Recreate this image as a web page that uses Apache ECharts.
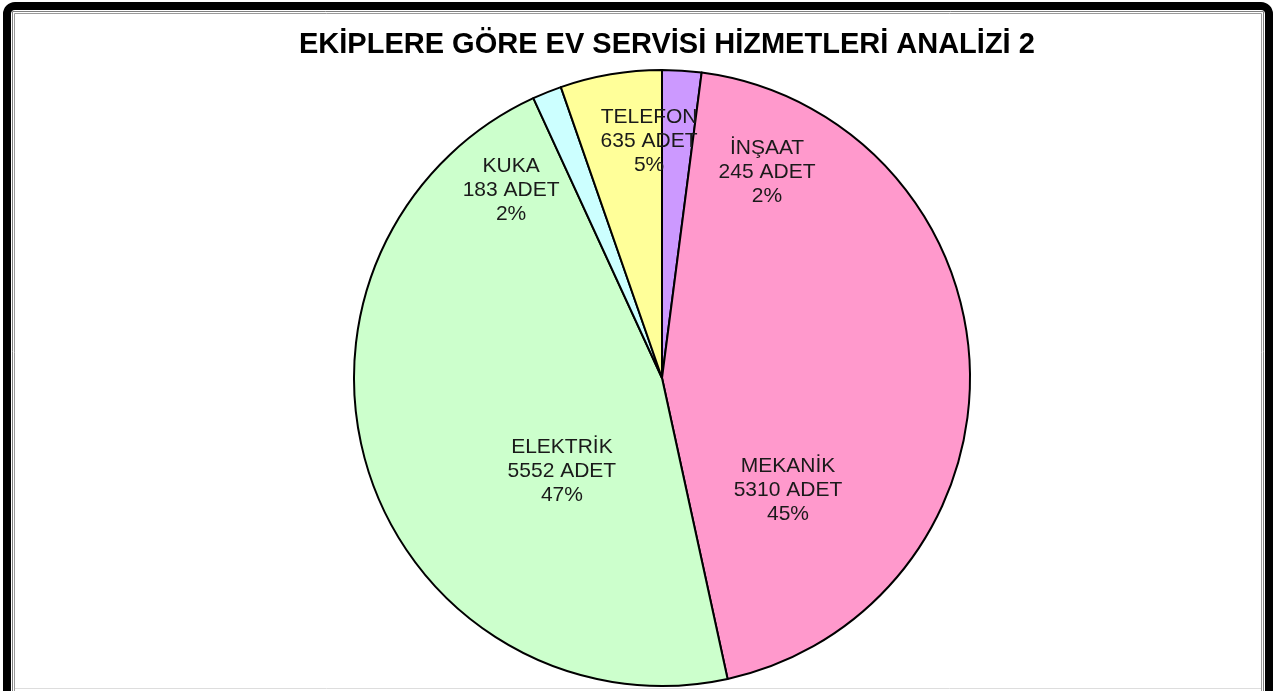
<!DOCTYPE html>
<html>
<head>
<meta charset="utf-8">
<script src="https://cdn.jsdelivr.net/npm/echarts@6/dist/echarts.min.js"></script>
<style>
  html, body { margin: 0; padding: 0; background: #fff; }
  #chart { width: 1274px; height: 691px; }
</style>
</head>
<body>
<div id="chart"></div>
<script>
// ekip adlari ve hizmet adetleri (saat yonunde, tepeden baslayarak)
const teams = ['İNŞAAT', 'MEKANİK', 'ELEKTRİK', 'KUKA', 'TELEFON']
const counts = [245, 5310, 5552, 183, 635]
const colors = ['#CC99FF', '#FF99CC', '#CCFFCC', '#CCFFFF', '#FFFF99']

const total = counts.reduce((a, b) => a + b, 0)

const cx = 662
const cy = 378
const R = 308
// etiket yerleri, yaricapa gore (Excel'in yerlestirdigi gibi)
const labelSpots = [
  [0.341, -0.669],
  [0.409, 0.364],
  [-0.325, 0.302],
  [-0.490, -0.610],
  [-0.042, -0.769]
]

const chart = echarts.init(document.getElementById('chart'))
chart.setOption({
  animation: false,
  title: {
    text: 'EKİPLERE GÖRE EV SERVİSİ HİZMETLERİ ANALİZİ 2',
    left: 294,
    top: 25,
    textStyle: {
      fontFamily: 'Liberation Sans, Arial, sans-serif',
      fontSize: 29,
      fontWeight: 'bold',
      color: '#000'
    }
  },
  graphic: [
    {
      type: 'rect',
      z: 100,
      shape: { x: 7, y: 6, width: 1262, height: 730, r: 8 },
      style: { fill: null, stroke: '#000', lineWidth: 8 }
    },
    {
      type: 'rect',
      z: 100,
      shape: { x: 12.5, y: 11.5, width: 1251, height: 720 },
      style: { fill: null, stroke: '#808080', lineWidth: 1 }
    },
    {
      type: 'rect',
      z: 100,
      shape: { x: 14.5, y: 13.5, width: 1247, height: 720 },
      style: { fill: null, stroke: '#9a9a9a', lineWidth: 1 }
    },
    {
      type: 'line',
      z: 100,
      shape: { x1: 15, y1: 688.5, x2: 1261, y2: 688.5 },
      style: { stroke: '#dddddd', lineWidth: 1 }
    }
  ],
  series: [{
    type: 'pie',
    center: [cx, cy],
    radius: R,
    startAngle: 90,
    clockwise: true,
    data: teams.map((t, i) => ({
      name: t,
      value: counts[i],
      itemStyle: { color: colors[i] }
    })),
    itemStyle: {
      borderColor: '#000',
      borderWidth: 2
    },
    label: {
      show: true,
      position: 'inside',
      formatter: p => p.name + '\n' + p.value + ' ADET\n' + Math.round(p.value / total * 100) + '%',
      fontFamily: 'Liberation Sans, Arial, sans-serif',
      fontSize: 21,
      lineHeight: 24,
      color: '#1a1a1a',
      align: 'center'
    },
    labelLine: { show: false },
    labelLayout: p => ({
      x: cx + labelSpots[p.dataIndex][0] * R,
      y: cy + labelSpots[p.dataIndex][1] * R,
      align: 'center',
      verticalAlign: 'middle'
    }),
    emphasis: { disabled: true }
  }]
})
</script>
</body>
</html>
